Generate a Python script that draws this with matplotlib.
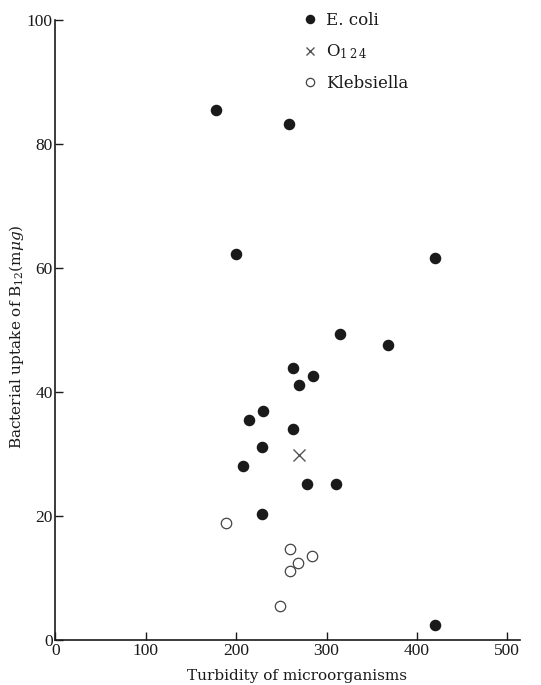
import matplotlib
matplotlib.use("Agg")
import matplotlib.pyplot as plt

# uptake of B12 against turbidity, three kinds of organism
ecoli_turbidity = [178, 259, 200, 420, 315, 368, 263, 285, 270, 230,
                   214, 263, 229, 208, 278, 310, 229, 420]
ecoli_uptake = [85.5, 83.2, 62.3, 61.6, 49.3, 47.6, 43.8, 42.6, 41.2, 36.9,
                35.5, 34.1, 31.2, 28.0, 25.2, 25.2, 20.4, 2.5]

o124_turbidity = [270]
o124_uptake = [29.8]

kleb_turbidity = [189, 260, 284, 268, 260, 249]
kleb_uptake = [18.8, 14.6, 13.5, 12.5, 11.2, 5.5]

x_ticks = [0, 100, 200, 300, 400, 500]
y_ticks = [0, 20, 40, 60, 80, 100]

plt.rcParams['mathtext.fontset'] = 'dejavuserif'
ink = '#1a1a1a'

fig = plt.figure(figsize=(5.41, 6.85), dpi=100)
ax = fig.add_axes([55.3 / 541, 1 - 640 / 685, 464.7 / 541, 620 / 685])

ax.plot(ecoli_turbidity, ecoli_uptake, 'o', ms=7.3, color=ink, mec=ink,
        ls='none', label='E. coli')
ax.plot(o124_turbidity, o124_uptake, 'x', ms=8, mew=1.0, color='#555555',
        ls='none', label=r'O$_{1\,2\,4}$')
ax.plot(kleb_turbidity, kleb_uptake, 'o', ms=7.5, mfc='white', mec='#444444',
        mew=0.9, ls='none', label='Klebsiella')

ax.set_xlim(0, 514)
ax.set_ylim(0, 100)
ax.set_xticks(x_ticks)
ax.set_yticks(y_ticks)

for side in ('top', 'right'):
    ax.spines[side].set_visible(False)
for side in ('left', 'bottom'):
    ax.spines[side].set_linewidth(1.2)
    ax.spines[side].set_color(ink)

ax.tick_params(direction='in', length=6, width=1.0, color=ink, pad=2,
               labelsize=12.5, labelcolor=ink)
for lab in ax.get_xticklabels() + ax.get_yticklabels():
    lab.set_fontfamily('Liberation Serif')

ax.set_xlabel('Turbidity of microorganisms', family='DejaVu Serif',
              fontsize=11, color=ink)
ax.set_ylabel(r'Bacterial uptake of B$_{12}$(m$\mu g$)', family='DejaVu Serif',
              fontsize=11, color=ink)
ax.xaxis.set_label_coords(0.52, -0.046)
ax.xaxis.label.set_va('top')
ax.yaxis.set_label_coords(-0.062, 0.49)

leg = ax.legend(loc='upper left', bbox_to_anchor=(303 / 541, 1 - 12 / 685),
                bbox_transform=fig.transFigure, frameon=False,
                handlelength=0.8, handletextpad=0.6, labelspacing=0.82,
                markerscale=0.8, borderaxespad=0, borderpad=0,
                prop={'family': 'DejaVu Serif', 'size': 12})
for t in leg.get_texts():
    t.set_color(ink)

fig.savefig('out.png', dpi=100)
